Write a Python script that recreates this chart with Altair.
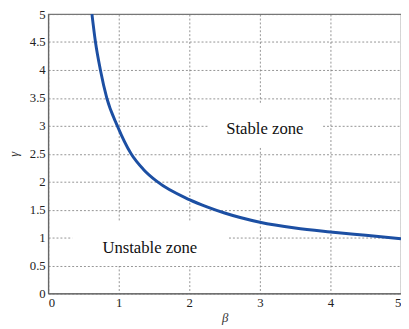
import altair as alt
import pandas as pd

beta = [0.62, 0.67, 0.74, 0.83, 0.98, 1.175, 1.35, 1.546, 2.0, 2.25, 2.5, 3.0, 3.5, 4.0, 4.5, 5.0]
gamma = [5.0, 4.5, 4.0, 3.5, 3.0, 2.5, 2.22, 2.0, 1.68, 1.55, 1.44, 1.275, 1.17, 1.10, 1.04, 0.98]

labels = ["Stable zone", "Unstable zone"]
label_beta = [3.07, 1.44]
label_gamma = [2.95, 0.82]
box_b1 = [2.27, 0.34]
box_b2 = [3.88, 2.56]
box_g1 = [2.61, 0.49]
box_g2 = [3.39, 1.28]

x_ticks = [0, 1, 2, 3, 4, 5]
y_ticks = [0, 0.5, 1, 1.5, 2, 2.5, 3, 3.5, 4, 4.5, 5]

curve = pd.DataFrame({"beta": beta, "gamma": gamma})
lab = pd.DataFrame({"text": labels, "b": label_beta, "g": label_gamma,
                    "b1": box_b1, "b2": box_b2, "g1": box_g1, "g2": box_g2})

FONT = "'Liberation Serif', 'Times New Roman', serif"

xs = alt.Scale(domain=[0, 5], nice=False)
ys = alt.Scale(domain=[0, 5], nice=False)

common = dict(grid=True, ticks=False, format="~g", labelOverlap=False,
              labelFont=FONT, labelFontSize=13, labelColor="#222",
              titleFont=FONT, titleFontSize=13, titleColor="#333",
              titleFontWeight="normal", titleFontStyle="italic",
              domainColor="#666", domainWidth=1.2,
              gridColor="#777", gridDash=[2, 2], gridWidth=0.8)

xaxis = alt.Axis(values=x_ticks, labelPadding=3, titlePadding=3, **common)
yaxis = alt.Axis(values=y_ticks, labelPadding=3, titlePadding=9, titleAngle=270, **common)

line = alt.Chart(curve).mark_line(color="#1c4fa3", strokeWidth=3, interpolate="monotone", clip=True).encode(
    x=alt.X("beta:Q", scale=xs, title="β", axis=xaxis),
    y=alt.Y("gamma:Q", scale=ys, title="γ", axis=yaxis),
)

boxes = alt.Chart(lab).mark_rect(color="white").encode(
    x=alt.X("b1:Q", scale=xs, title="β", axis=xaxis), x2="b2:Q",
    y=alt.Y("g1:Q", scale=ys, title="γ", axis=yaxis), y2="g2:Q"
)

texts = alt.Chart(lab).mark_text(font=FONT, fontSize=17, color="#111").encode(
    x=alt.X("b:Q", scale=xs, title="β", axis=xaxis),
    y=alt.Y("g:Q", scale=ys, title="γ", axis=yaxis),
    text="text:N"
)

chart = alt.layer(line, boxes, texts).properties(
    width=360, height=285,
    autosize=alt.AutoSizeParams(type="none"),
    padding={"left": 41, "top": 3, "right": 0, "bottom": 30},
).configure_view(stroke="#777", strokeWidth=1.2)

chart.save("out.html", embed_options={"renderer": "svg", "actions": False})
